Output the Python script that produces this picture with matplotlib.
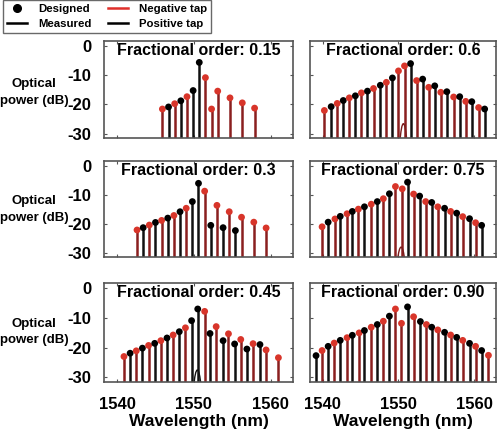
import matplotlib
matplotlib.use("Agg")
import matplotlib.pyplot as plt
from matplotlib.lines import Line2D

plt.rcParams['font.family'] = ['Liberation Sans', 'DejaVu Sans']
plt.rcParams['font.weight'] = 'bold'
plt.rcParams['axes.unicode_minus'] = False

# ---- data (wavelength nm, optical power dB, tap sign) ----
titles = ["Fractional order: 0.15", "Fractional order: 0.6",
          "Fractional order: 0.3", "Fractional order: 0.75",
          "Fractional order: 0.45", "Fractional order: 0.90"]

wl_015 = [1545.9, 1546.7, 1547.5, 1548.3, 1549.1, 1549.9, 1550.7, 1551.5, 1552.3,
          1553.1, 1554.7, 1556.3, 1557.9]
db_015 = [-21.6, -20.9, -19.8, -18.8, -17.4, -15.3, -5.7, -10.9, -21.6, -15.5,
          -17.8, -19.5, -21.3]
sg_015 = "rkrkrkkrrrrrr"

wl_06 = [1540.2, 1541.1, 1541.9, 1542.7, 1543.5, 1544.3, 1545.1, 1545.9, 1546.7,
         1547.6, 1548.4, 1549.2, 1550.0, 1550.8, 1551.6, 1552.4, 1553.2, 1554.0,
         1554.8, 1555.6, 1556.4, 1557.3, 1558.1, 1558.9, 1559.7, 1560.6, 1561.4]
db_06 = [-22.1, -20.8, -19.7, -18.7, -17.8, -17.1, -16.1, -15.5, -14.6, -13.5,
         -12.5, -11.0, -8.6, -6.9, -6.1, -11.9, -11.4, -14.2, -13.7, -15.9, -15.7,
         -17.5, -17.4, -19.0, -19.1, -21.1, -21.6]
sg_06 = "rkrkrkrkrkrkrrkrkrkrkrkrkrk"

wl_03 = [1542.6, 1543.4, 1544.2, 1545.0, 1545.8, 1546.6, 1547.4, 1548.2, 1549.0,
         1549.8, 1550.6, 1551.4, 1552.2, 1553.0, 1553.8, 1554.6, 1555.4, 1556.2,
         1557.8, 1559.4]
db_03 = [-22.2, -21.4, -20.5, -19.6, -18.9, -18.1, -17.2, -15.9, -14.7, -12.4,
         -6.1, -8.8, -20.6, -13.7, -21.4, -15.9, -22.4, -17.8, -19.5, -21.5]
sg_03 = "rkrkrkrkrkkrkrkrkrrr"

wl_075 = [1539.9, 1540.7, 1541.6, 1542.3, 1543.2, 1543.9, 1544.7, 1545.5, 1546.4,
          1547.2, 1548.0, 1548.8, 1549.6, 1550.5, 1551.2, 1552.0, 1552.8, 1553.6,
          1554.4, 1555.2, 1556.1, 1556.9, 1557.7, 1558.5, 1559.4, 1560.2, 1561.0]
db_075 = [-21.1, -19.5, -18.4, -17.5, -16.6, -15.8, -15.0, -14.2, -13.3, -12.4,
          -11.4, -9.7, -7.2, -8.0, -5.7, -9.8, -10.5, -12.4, -12.7, -14.2, -14.7,
          -15.8, -16.4, -17.6, -18.3, -19.7, -20.6]
sg_075 = "rkrkrkrkrkrkrrkrkrkrkrkrkrk"

wl_045 = [1540.9, 1541.7, 1542.5, 1543.3, 1544.1, 1544.9, 1545.7, 1546.5, 1547.3,
          1548.1, 1548.9, 1549.7, 1550.5, 1551.4, 1552.1, 1552.9, 1553.8, 1554.5,
          1555.3, 1556.1, 1556.9, 1557.7, 1558.6, 1559.4, 1561.0]
db_045 = [-23.0, -21.9, -21.1, -20.2, -19.3, -18.6, -17.7, -16.8, -15.8, -14.7,
          -13.4, -11.0, -7.1, -7.9, -15.3, -13.0, -17.7, -15.4, -18.8, -17.3,
          -20.5, -18.7, -19.0, -20.8, -23.4]
sg_045 = "rkrkrkrkrkrkkrkrkrkrkrkrr"

wl_090 = [1539.1, 1539.9, 1540.7, 1541.5, 1542.3, 1543.2, 1543.9, 1544.8, 1545.5,
          1546.4, 1547.2, 1548.0, 1548.8, 1549.6, 1550.4, 1551.2, 1552.0, 1552.9,
          1553.7, 1554.4, 1555.2, 1556.1, 1556.9, 1557.7, 1558.5, 1559.4, 1560.2,
          1561.0, 1561.9]
db_090 = [-22.7, -21.0, -19.6, -18.5, -17.6, -16.7, -15.9, -15.1, -14.3, -13.2,
          -12.3, -11.2, -9.5, -7.1, -11.9, -6.4, -9.7, -11.3, -12.3, -13.2, -14.1,
          -14.9, -15.8, -16.6, -17.6, -18.6, -19.6, -21.0, -22.6]
sg_090 = "krkrkrkrkrkrkrrkrkrkrkrkrkrkr"[:29]

# small measured carrier residue near 1550 nm: (centre, peak dB, colour) or None
hump_015 = None
hump_06 = (1550.65, -26.6, '#7a1c1c')
hump_03 = None
hump_075 = (1550.35, -28.1, '#7a1c1c')
hump_045 = (1550.45, -27.5, '#111111')
hump_090 = None
hump_dx = [-0.42, -0.32, -0.2, -0.08, 0.0, 0.08, 0.2, 0.32, 0.42]
hump_rel = [0.0, 0.45, 0.8, 0.97, 1.0, 0.97, 0.8, 0.45, 0.0]

panels = [(wl_015, db_015, sg_015, hump_015), (wl_06, db_06, sg_06, hump_06),
          (wl_03, db_03, sg_03, hump_03), (wl_075, db_075, sg_075, hump_075),
          (wl_045, db_045, sg_045, hump_045), (wl_090, db_090, sg_090, hump_090)]

yticks = [0, -10, -20, -30]
xticks = [1540, 1550, 1560]
YMIN, YMAX = -31.5, 1.6
XMIN, XMAX = 1538.3, 1562.9

stem_col = {'r': '#8a1f1f', 'k': '#111111'}
dot_col = {'r': '#d8352a', 'k': '#000000'}

fig = plt.figure(figsize=(5.0, 4.34), dpi=100)

col_x = [(0.208, 0.378), (0.620, 0.372)]
row_y = [(0.682, 0.2235), (0.408, 0.221), (0.120, 0.228)]
ylab_y = [0.786, 0.518, 0.235]

for i, (wl, db, sg, hump) in enumerate(panels):
    r, c = divmod(i, 2)
    ax = fig.add_axes([col_x[c][0], row_y[r][0], col_x[c][1], row_y[r][1]])
    ax.vlines(wl, YMIN, db, colors=[stem_col[s] for s in sg], lw=1.8, zorder=2)
    ax.scatter(wl, db, c=[dot_col[s] for s in sg], s=24, zorder=3, linewidths=0)
    if hump is not None:
        hc, hp, hcol = hump
        ax.plot([hc + d for d in hump_dx], [YMIN + (hp - YMIN) * h for h in hump_rel],
                color=hcol, lw=1.0, zorder=2)
    ax.set_xlim(XMIN, XMAX)
    ax.set_ylim(YMIN, YMAX)
    ax.set_xticks(xticks)
    ax.set_yticks(yticks)
    ax.tick_params(direction='in', length=2.5, width=0.8, top=True, right=True,
                   labelsize=12, pad=9, colors='#555555', labelcolor='black')
    if r < 2:
        ax.tick_params(labelbottom=False)
    else:
        ax.set_xlabel("Wavelength (nm)", fontsize=12.5, fontweight='bold', labelpad=1)
        ax.tick_params(axis='x', pad=11)
    if c == 1:
        ax.tick_params(labelleft=False)
    for sp in ax.spines.values():
        sp.set_color('#555555')
        sp.set_linewidth(1.2)
    ax.text(0.5, 0.9, titles[i], transform=ax.transAxes, ha='center', va='center',
            fontsize=11.5, fontweight='bold')

for r in range(3):
    fig.text(0.068, ylab_y[r], "Optical\npower (dB)", ha='center', va='center',
             fontsize=9.5, fontweight='bold', multialignment='center',
             linespacing=1.55)

handles = [Line2D([], [], ls='none', marker='o', color='black', markersize=5.5),
           Line2D([], [], color='black', lw=1.8),
           Line2D([], [], color='#e0302a', lw=1.8),
           Line2D([], [], color='black', lw=1.8)]
labels = ["Designed", "Measured", "Negative tap", "Positive tap"]
leg = fig.legend(handles, labels, loc='upper left', bbox_to_anchor=(0.006, 1.0),
                 ncol=2, fontsize=8.2, frameon=True, fancybox=False,
                 borderaxespad=0, handlelength=1.75, columnspacing=1.4,
                 labelspacing=0.45, borderpad=0.35, handletextpad=1.0)
leg.get_frame().set_edgecolor('#444444')
leg.get_frame().set_linewidth(1.0)
for t in leg.get_texts():
    t.set_fontweight('bold')

fig.savefig("out.png", dpi=100)
